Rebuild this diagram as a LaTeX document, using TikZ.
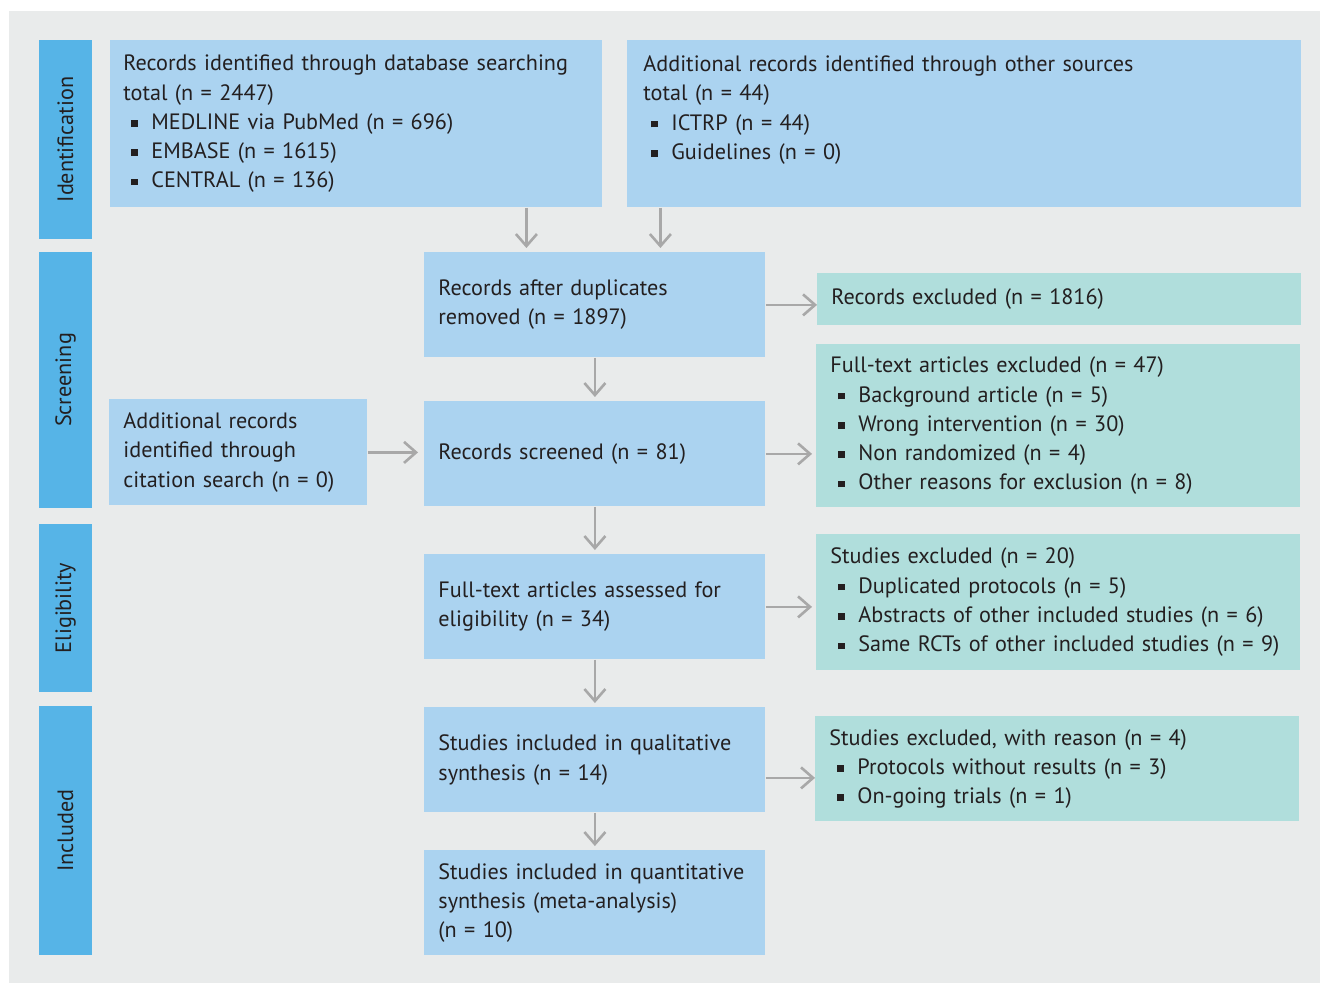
\documentclass[tikz,border=0pt]{standalone}
\usepackage{fontspec}
\setmainfont{PT Sans}
\usetikzlibrary{arrows.meta}

\definecolor{panelgrey}{HTML}{E9EBEB}
\definecolor{stageblue}{HTML}{56B4E7}
\definecolor{boxblue}{HTML}{ABD3F0}
\definecolor{boxteal}{HTML}{B0DEDC}
\definecolor{arrowgrey}{HTML}{A8A8A8}
\definecolor{textdark}{HTML}{231F20}

% square bullet for the lists
\newcommand{\sqbullet}{\makebox[14pt][l]{\hspace{4pt}\rule[1.4pt]{3.2pt}{3.2pt}}}

\tikzset{
  stagebar/.style={fill=stageblue, text=textdark, rotate=90, inner sep=0pt},
  bluebox/.style={fill=boxblue, text=textdark, anchor=north west, align=left, inner xsep=7pt, inner ysep=0pt},
  tealbox/.style={bluebox, fill=boxteal},
  flowarrow/.style={draw=arrowgrey, line width=1.3pt, -{Straight Barb[length=6pt,width=10.5pt]}, shorten >=2pt}
}

\begin{document}
\begin{tikzpicture}[x=0.5pt, y=-0.5pt, font=\fontsize{11.1pt}{14.65pt}\selectfont]
            % panel
            \useasboundingbox (0,0) rectangle (1320,983);
            \fill [panelgrey] (9,11) rectangle (1320,983);
            % stage bars
            \node [stagebar, minimum width=99.5pt, minimum height=26.5pt] (identification) at (65.5,139.5) {Identification};
            \node [stagebar, minimum width=128pt, minimum height=26.5pt] (screening) at (65.5,380) {Screening};
            \node [stagebar, minimum width=84pt, minimum height=26.5pt] (eligibility) at (65.5,608) {Eligibility};
            \node [stagebar, minimum width=124.5pt, minimum height=26.5pt] (included) at (65.5,830.5) {Included};
            % identification boxes
            \node [bluebox, inner xsep=6.5pt, minimum width=246pt, minimum height=83.5pt, text width=233pt] (dbsearch) at (110,40)
              {Records identified through database searching\\total (n = 2447)\\\sqbullet MEDLINE via PubMed (n = 696)\\\sqbullet EMBASE (n = 1615)\\\sqbullet CENTRAL (n = 136)};
            \node [bluebox, inner xsep=8pt, minimum width=337pt, minimum height=83.5pt, text width=321pt] (othersrc) at (627,40)
              {\parbox[c][68pt][t]{321pt}{Additional records identified through other sources\\total (n = 44)\\\sqbullet ICTRP (n = 44)\\\sqbullet Guidelines (n = 0)}};
            % screening boxes
            \node [bluebox, minimum width=170.5pt, minimum height=52.5pt, text width=156.5pt] (dups) at (424,252)
              {Records after duplicates\\removed (n = 1897)};
            \node [tealbox, minimum width=242pt, minimum height=26pt, text width=228pt] (excl1) at (817,273)
              {Records excluded (n = 1816)};
            \node [bluebox, minimum width=129pt, minimum height=53pt, text width=115pt] (citation) at (109,399)
              {Additional records\\identified through\\citation search (n = 0)};
            \node [bluebox, minimum width=170.5pt, minimum height=52.5pt, text width=156.5pt] (screened) at (424,401)
              {Records screened (n = 81)};
            \node [tealbox, minimum width=242pt, minimum height=81.5pt, text width=228pt] (excl2) at (816,344)
              {Full-text articles excluded (n = 47)\\\sqbullet Background article (n = 5)\\\sqbullet Wrong intervention (n = 30)\\\sqbullet Non randomized (n = 4)\\\sqbullet Other reasons for exclusion (n = 8)};
            % eligibility boxes
            \node [bluebox, minimum width=170.5pt, minimum height=52.5pt, text width=156.5pt] (assessed) at (424,554)
              {Full-text articles assessed for\\eligibility (n = 34)};
            \node [tealbox, minimum width=242pt, minimum height=68pt, text width=228pt] (excl3) at (816,534)
              {Studies excluded (n = 20)\\\sqbullet Duplicated protocols (n = 5)\\\sqbullet Abstracts of other included studies (n = 6)\\\sqbullet Same RCTs of other included studies (n = 9)};
            % included boxes
            \node [bluebox, minimum width=170.5pt, minimum height=52.5pt, text width=156.5pt] (qualit) at (424,707)
              {Studies included in qualitative\\synthesis (n = 14)};
            \node [tealbox, minimum width=242pt, minimum height=52.5pt, text width=228pt] (excl4) at (815,716)
              {Studies excluded, with reason (n = 4)\\\sqbullet Protocols without results (n = 3)\\\sqbullet On-going trials (n = 1)};
            \node [bluebox, minimum width=170.5pt, minimum height=52.5pt, text width=156.5pt] (quantit) at (424,850)
              {Studies included in quantitative\\synthesis (meta-analysis)\\(n = 10)};
            % arrows down
            \draw [flowarrow] ([xshift=-34.25pt]dups.north |- dbsearch.south) -- ([xshift=-34.25pt]dups.north);
            \draw [flowarrow] ([xshift=32.75pt]dups.north |- othersrc.south) -- ([xshift=32.75pt]dups.north);
            \draw [flowarrow] (dups) -- (screened);
            \draw [flowarrow] (screened) -- (assessed);
            \draw [flowarrow] (assessed) -- (qualit);
            \draw [flowarrow] (qualit) -- (quantit);
            % arrows right
            \draw [flowarrow, shorten >=0pt] (dups.east) -- (dups.east -| excl1.west);
            \draw [flowarrow, shorten >=3pt] (citation.east) -- (citation.east -| screened.west);
            \draw [flowarrow] (screened.east) -- (screened.east -| excl2.west);
            \draw [flowarrow] (assessed.east) -- (assessed.east -| excl3.west);
            \draw [flowarrow, shorten >=0pt] ([yshift=-9pt]qualit.east) -- ([yshift=-9pt]qualit.east -| excl4.west);
\end{tikzpicture}
\end{document}
